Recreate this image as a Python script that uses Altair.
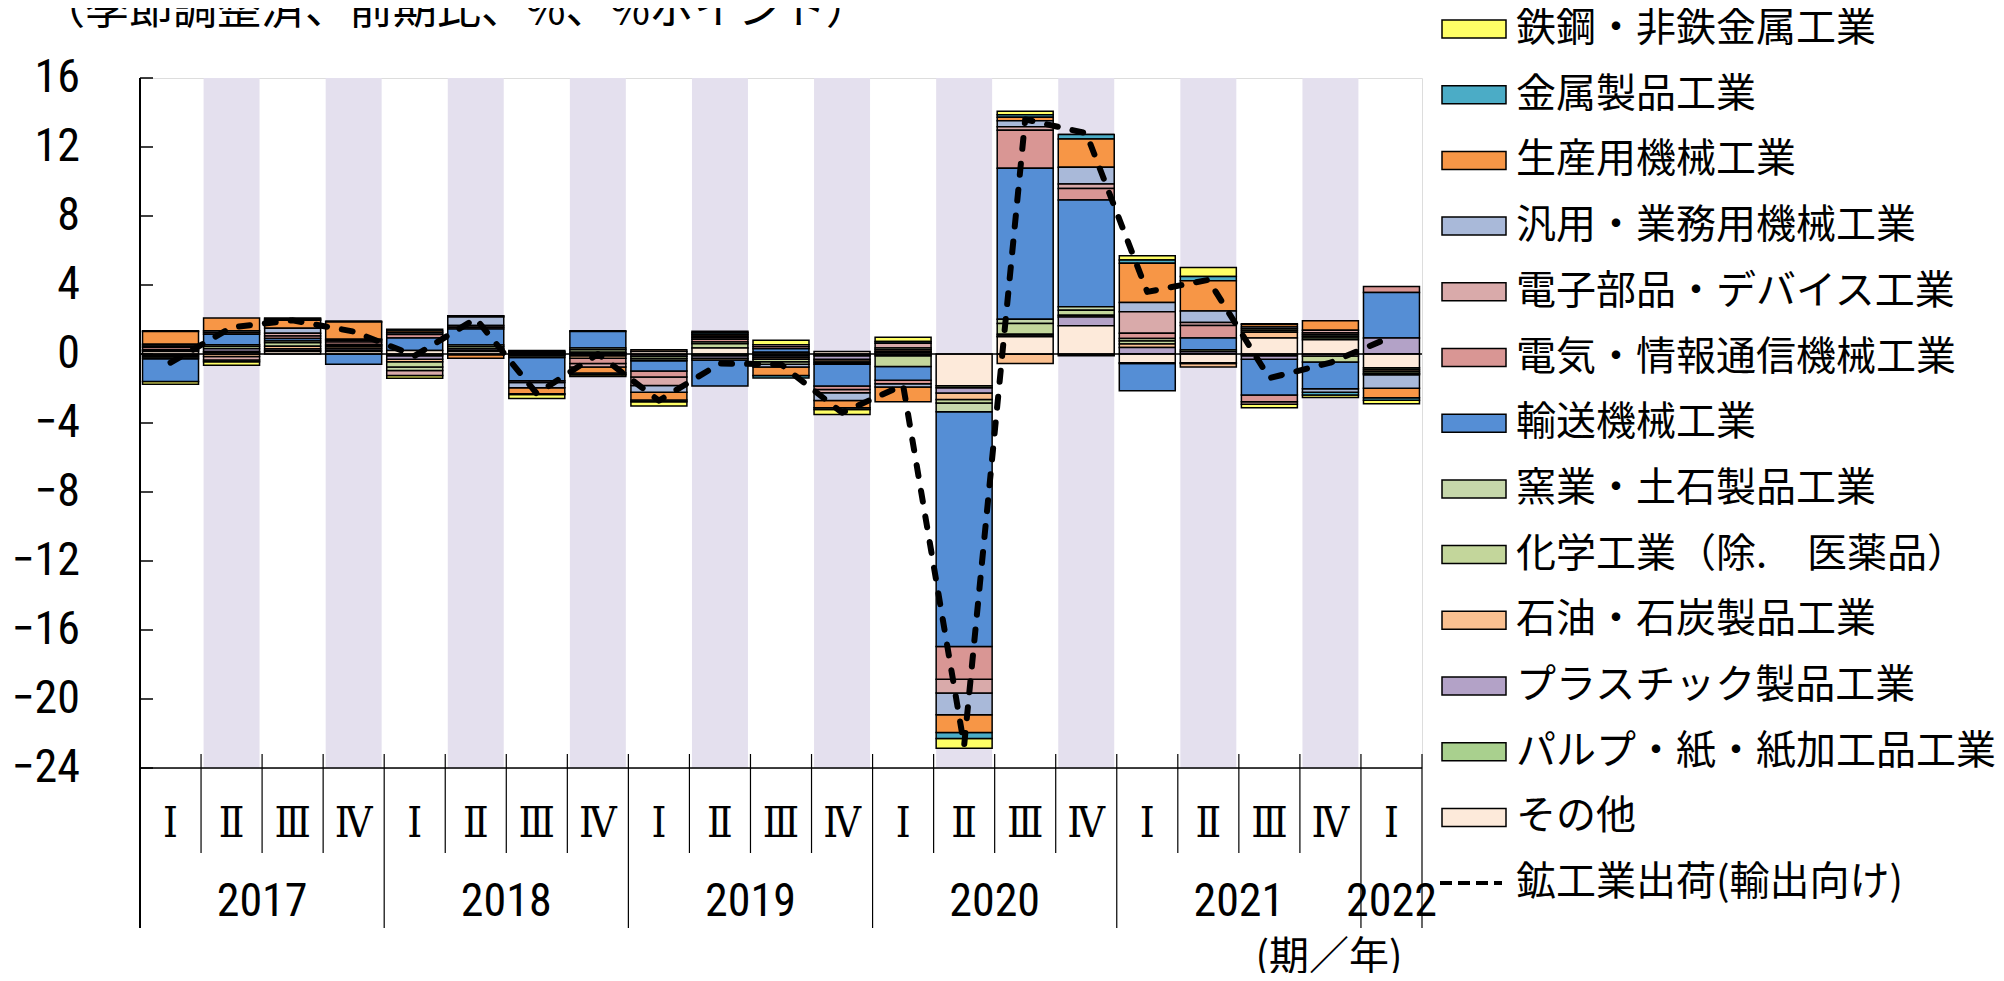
import altair as alt
import pandas as pd

# ---------------- data ----------------
years = [2017] * 4 + [2018] * 4 + [2019] * 4 + [2020] * 4 + [2021] * 4 + [2022]
quarter_labels = ["Ⅰ", "Ⅱ", "Ⅲ", "Ⅳ"] * 5 + ["Ⅰ"]

series_names = [
    "鉄鋼・非鉄金属工業",
    "金属製品工業",
    "生産用機械工業",
    "汎用・業務用機械工業",
    "電子部品・デバイス工業",
    "電気・情報通信機械工業",
    "輸送機械工業",
    "窯業・土石製品工業",
    "化学工業（除.\u3000医薬品）",
    "石油・石炭製品工業",
    "プラスチック製品工業",
    "パルプ・紙・紙加工品工業",
    "その他",
]
series_colors = [
    "#FFFF66", "#4BACC6", "#F79646", "#A9B9D9", "#D9AAAA", "#D99694",
    "#558ED5", "#C6D7AA", "#C3D69B", "#FAC090", "#B3A2C7", "#A9D08E", "#FDEADA",
]

s_tekko = [-0.15, -0.2, 0.05, 0.0, -0.15, 0.02, -0.23, -0.1, -0.25, 0.07, 0.25, -0.29, 0.25, -0.56, 0.2, 0.0, 0.25, 0.52, -0.2, -0.15, -0.2]
s_kinzoku = [0.05, -0.1, 0.08, 0.05, 0.1, 0.05, -0.05, -0.1, -0.1, 0.1, -0.14, -0.1, 0.1, -0.35, 0.15, 0.25, 0.19, 0.25, 0.05, -0.15, -0.15]
s_seisan = [0.73, 0.73, 0.45, 1.0, 0.1, -0.2, -0.35, -0.35, -0.45, 0.1, -0.5, -0.43, -0.85, -1.03, 0.2, 1.65, 2.27, 1.74, 0.15, 0.55, -0.55]
s_hanyo = [0.1, 0.1, 0.3, 0.05, 0.1, 0.5, -0.3, 0.05, -0.4, 0.1, -0.15, -0.45, -0.2, -1.26, 0.35, 0.96, 0.54, 0.68, 0.1, -0.2, -0.78]
s_denshi = [0.1, -0.2, 0.15, 0.1, -0.3, 0.1, -0.1, -0.2, -0.48, 0.1, 0.12, -0.18, 0.27, -0.8, 0.2, 0.26, 1.25, 0.17, -0.15, 0.15, -0.05]
s_denki = [0.12, 0.1, 0.15, 0.15, 0.2, 0.1, 0.05, -0.3, -0.35, 0.15, 0.12, -0.2, -0.2, -1.89, 2.2, 0.67, 0.3, 0.72, -0.4, 0.1, 0.35]
s_yuso = [-1.32, 0.62, 0.15, -0.6, 0.73, 0.93, -1.35, 0.95, -0.6, -1.5, 0.2, -1.26, -0.8, -13.61, 8.75, 6.19, -1.58, 0.7, -2.07, -1.55, 2.64]
s_yogyo = [-0.1, 0.1, 0.1, 0.05, -0.2, 0.1, -0.1, 0.1, -0.12, 0.1, -0.15, -0.1, 0.1, -0.51, 0.25, 0.2, 0.15, 0.0, 0.1, 0.1, -0.05]
s_kagaku = [0.05, 0.13, 0.2, 0.1, -0.3, 0.12, 0.05, 0.15, -0.12, 0.25, -0.15, -0.1, -0.62, -0.2, 0.62, 0.3, 0.17, 0.1, 0.1, -0.35, -0.1]
s_sekiyu = [-0.1, -0.15, 0.15, 0.1, -0.15, -0.05, -0.05, -0.15, 0.1, -0.1, -0.1, -0.1, 0.1, -0.38, -0.55, 0.1, 0.2, -0.2, 0.33, 0.1, -0.1]
s_plastic = [0.05, 0.15, 0.1, 0.1, -0.2, 0.1, 0.05, -0.1, -0.1, -0.15, -0.1, -0.2, -0.1, -0.3, 0.1, 0.5, 0.38, 0.13, -0.2, -0.12, 0.93]
s_pulp = [-0.08, 0.05, 0.05, 0.05, -0.1, 0.05, -0.05, 0.05, -0.05, -0.1, -0.1, -0.1, 0.05, -0.12, 0.05, -0.1, -0.05, -0.05, -0.1, 0.1, -0.1]
s_sonota = [0.15, 0.1, 0.15, 0.15, 0.2, 0.15, 0.05, 0.05, 0.15, 0.35, 0.1, 0.15, 0.1, -1.84, 1.0, 1.64, -0.5, -0.5, 0.93, 0.83, -0.8]

shipments = [-0.5, 1.55, 1.95, 1.3, -0.1, 2.05, -2.3, 0.0, -2.7, -0.55, -0.6, -3.4, -1.8, -22.7, 13.6, 12.8, 3.6, 4.3, -1.4, -0.5, 1.0]
line_name = "鉱工業出荷(輸出向け)"

y_ticks = list(range(-24, 17, 4))
title_text = "（季節調整済、前期比、%、%ポイント）"
axis_unit_text = "(期／年)"

series_values = [s_tekko, s_kinzoku, s_seisan, s_hanyo, s_denshi, s_denki, s_yuso,
                 s_yogyo, s_kagaku, s_sekiyu, s_plastic, s_pulp, s_sonota]

# ---------------- layout ----------------
W, H = 1282, 690
N = len(years)
GAP = 0.0415
XS = alt.Scale(domain=[0, N], nice=False, zero=False)
YS = alt.Scale(domain=[-24, 16], nice=False, zero=False)
JP = "Noto Sans CJK JP"
NUM = "Roboto Condensed, DejaVu Sans Condensed, sans-serif"
ROMAN = "DejaVu Serif Condensed, DejaVu Serif, serif"
SHADE = "#E4E0EE"

rows = []
ns = len(series_names)
for k, (name, vals) in enumerate(zip(series_names, series_values)):
    for i, v in enumerate(vals):
        rows.append({"series": name, "stack_order": ns - 1 - k, "qi": i,
                     "xa": i + GAP, "xb": i + 1 - GAP, "value": v})
bars_df = pd.DataFrame(rows)

q_df = pd.DataFrame({"qi": list(range(N)), "label": quarter_labels, "year": years})
q_df["xa"] = q_df.qi + GAP
q_df["xb"] = q_df.qi + 1 - GAP
q_df["xc"] = q_df.qi + 0.5
q_df["ytop"] = 16
q_df["ybot"] = -24
shade_df = q_df[q_df.qi % 2 == 1]

line_df = pd.DataFrame({"xc": [i + 0.5 for i in range(N)], "v": shipments})

yr = q_df.groupby("year").agg(start=("qi", "min"), n=("qi", "count")).reset_index()
yr["xc"] = yr.start + yr.n / 2
yr["label"] = yr.year.astype(str)

year_bounds = sorted(set(yr.start.tolist()[1:] + [N]))
quarter_bounds = [b for b in range(1, N) if b not in year_bounds]

frame_df = pd.DataFrame({"xa": [0], "xb": [N], "zero": [0], "bottom": [-24]})
ytick_df = pd.DataFrame({"v": y_ticks, "label": [str(t).replace("-", "−") for t in y_ticks]})

# ---------------- layers ----------------
shade = alt.Chart(shade_df).mark_rect(color=SHADE).encode(
    x=alt.X("xa:Q", scale=XS, axis=None), x2="xb:Q",
    y=alt.Y("ytop:Q", scale=YS, axis=None), y2="ybot:Q",
)

bars = alt.Chart(bars_df).transform_stack(
    stack="value", groupby=["qi"], as_=["y0", "y1"],
    sort=[alt.SortField(field="stack_order", order="ascending")], offset="zero",
).mark_rect(stroke="black", strokeWidth=1.5).encode(
    x=alt.X("xa:Q", scale=XS, axis=None), x2="xb:Q",
    y=alt.Y("y0:Q", scale=YS, axis=None), y2="y1:Q",
    color=alt.Color("series:N", scale=alt.Scale(domain=series_names, range=series_colors), legend=None),
)

zero_line = alt.Chart(frame_df).mark_rule(color="black", strokeWidth=1.5).encode(
    x=alt.X("xa:Q", scale=XS, axis=None), x2="xb:Q", y=alt.Y("zero:Q", scale=YS, axis=None))
bottom_line = alt.Chart(frame_df).mark_rule(color="black", strokeWidth=1.5).encode(
    x=alt.X("xa:Q", scale=XS, axis=None), x2="xb:Q", y=alt.Y("bottom:Q", scale=YS, axis=None))

ytick_rules = alt.Chart(ytick_df).mark_rule(color="black", strokeWidth=1.5).encode(
    y=alt.Y("v:Q", scale=YS, axis=None), x=alt.value(0), x2=alt.value(13))
ytick_labels = alt.Chart(ytick_df).mark_text(font=NUM, fontSize=46, align="right", baseline="middle", color="black").encode(
    y=alt.Y("v:Q", scale=YS, axis=None), x=alt.value(-60), text="label:N")

left_axis = alt.Chart(pd.DataFrame({"p": [0]})).mark_rule(color="black", strokeWidth=2).encode(
    x=alt.X("p:Q", scale=XS, axis=None), y=alt.value(0), y2=alt.value(850))
year_seps = alt.Chart(pd.DataFrame({"p": year_bounds})).mark_rule(color="black", strokeWidth=1.2).encode(
    x=alt.X("p:Q", scale=XS, axis=None), y=alt.value(676), y2=alt.value(850))
quarter_seps = alt.Chart(pd.DataFrame({"p": quarter_bounds})).mark_rule(color="black", strokeWidth=1.2).encode(
    x=alt.X("p:Q", scale=XS, axis=None), y=alt.value(676), y2=alt.value(775))

q_text = alt.Chart(q_df).mark_text(font=ROMAN, fontSize=42, baseline="middle", align="center", color="black").encode(
    x=alt.X("xc:Q", scale=XS, axis=None), y=alt.value(746), text="label:N")
y_text = alt.Chart(yr).mark_text(font=NUM, fontSize=46, baseline="middle", align="center", color="black").encode(
    x=alt.X("xc:Q", scale=XS, axis=None), y=alt.value(824), text="label:N")
unit_text = alt.Chart(pd.DataFrame({"t": [axis_unit_text]})).mark_text(
    font=JP, fontSize=40, baseline="middle", align="center", color="black").encode(
    x=alt.value(1189), y=alt.value(880), text="t:N")
title = alt.Chart(pd.DataFrame({"t": [title_text]})).mark_text(
    font=JP, fontSize=44, baseline="alphabetic", align="left", color="black").encode(
    x=alt.value(-99), y=alt.value(-54), text="t:N")

line = alt.Chart(line_df).mark_line(color="black", strokeWidth=6, strokeDash=[11, 15],
                                    strokeCap="round", strokeJoin="round").encode(
    x=alt.X("xc:Q", scale=XS, axis=None), y=alt.Y("v:Q", scale=YS, axis=None))

# legend (rows laid out by index)
ROW0, ROWSTEP = -49, 65.7
leg_df = pd.DataFrame({"name": series_names, "k": list(range(ns))})
leg_df["ry"] = ROW0 + ROWSTEP * leg_df.k
leg_df["ry0"] = leg_df.ry - 9
leg_df["ry1"] = leg_df.ry + 9
leg_rect = alt.Chart(leg_df).mark_rect(stroke="black", strokeWidth=1.5).encode(
    x=alt.value(1302), x2=alt.value(1366),
    y=alt.Y("ry0:Q", scale=None, axis=None), y2="ry1:Q",
    color=alt.Color("name:N", scale=alt.Scale(domain=series_names, range=series_colors), legend=None))
line_leg_df = pd.DataFrame({"name": [line_name], "ry": [ROW0 + ROWSTEP * ns]})
all_leg_text = pd.concat([leg_df[["name", "ry"]], line_leg_df], ignore_index=True)
leg_text = alt.Chart(all_leg_text).mark_text(font=JP, fontSize=40, align="left", baseline="middle", color="black").encode(
    x=alt.value(1376), y=alt.Y("ry:Q", scale=None, axis=None), text="name:N")
leg_line = alt.Chart(line_leg_df).mark_rule(color="black", strokeWidth=4, strokeDash=[12, 6]).encode(
    x=alt.value(1300), x2=alt.value(1362), y=alt.Y("ry:Q", scale=None, axis=None))

layers = [shade, bars, zero_line, bottom_line, ytick_rules, ytick_labels, left_axis, year_seps,
          quarter_seps, q_text, y_text, unit_text, title, line, leg_rect, leg_text, leg_line]

chart = alt.layer(*layers).properties(
    width=W, height=H,
    padding={"left": 132, "top": 70, "right": 574, "bottom": 205},
    autosize=alt.AutoSizeParams(type="none"),
).configure_view(stroke=None).configure(background="white")

chart.save("out.html", embed_options={"renderer": "svg", "actions": False})
